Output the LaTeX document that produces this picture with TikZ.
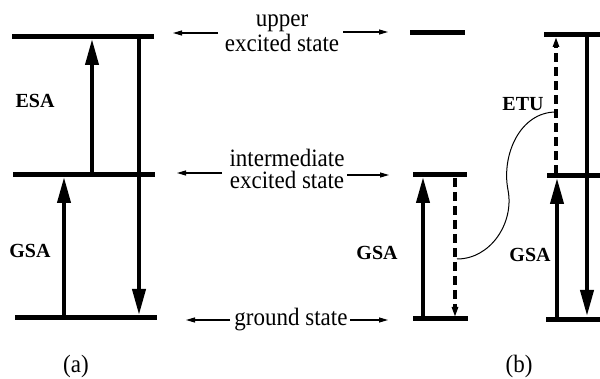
\documentclass[tikz,border=0pt]{standalone}
\usepackage{fontspec}
\setmainfont{Liberation Serif}
\newfontfamily\tallfont{Liberation Serif}[FakeStretch=0.92]
\usetikzlibrary{arrows.meta}
\begin{document}
\begin{tikzpicture}[x=1pt,y=-1pt,
  level/.style={line width=5pt},
  bigarrow/.style={line width=4pt,-{Triangle[length=26pt,width=13pt]}},
  dasharrow/.style={line width=4.5pt,dash pattern=on 9pt off 5pt,-{Triangle[length=10pt,width=6pt]}},
  thinarrow/.style={line width=1.1pt,-{Triangle[length=9pt,width=5pt]}},
  lab/.style={font=\fontsize{20}{21}\selectfont\bfseries,inner sep=0pt},
  txt/.style={font=\tallfont\fontsize{25}{25}\selectfont,align=center,inner sep=0pt},
]
\useasboundingbox (0,0) rectangle (600,379);

% ---- panel (a) levels
\coordinate (aTL) at (12,37);  \coordinate (aTR) at (154,37);
\coordinate (aML) at (13,175); \coordinate (aMR) at (155,175);
\coordinate (aBL) at (15,318); \coordinate (aBR) at (157,318);
\draw[level] (aTL) -- (aTR);
\draw[level] (aML) -- (aMR);
\draw[level] (aBL) -- (aBR);

% ---- panel (a) arrows
\coordinate (g1s) at (64,318); \coordinate (g1e) at (64,177);
\coordinate (e1s) at (92,175); \coordinate (e1e) at (92,39);
\coordinate (d1s) at (139,37); \coordinate (d1e) at (139,315);
\draw[bigarrow] (g1s) -- (g1e);
\draw[bigarrow] (e1s) -- (e1e);
\draw[bigarrow] (d1s) -- (d1e);
\node[lab] (esa) at (35,101) {ESA};
\node[lab] (gsa1) at (30,251) {GSA};

% ---- centre labels (base = baseline of the last line)
\node[txt,anchor=base] (upper) at (282,52) {upper\\excited state};
\node[txt,font=\tallfont\fontsize{25}{22}\selectfont,anchor=base] (inter) at (287,189) {intermediate\\excited state};
\node[txt,anchor=base] (ground) at (291,326) {ground state};

\coordinate (u1s) at (218,33); \coordinate (u1e) at (173,33);
\coordinate (u2s) at (343,32); \coordinate (u2e) at (388,32);
\coordinate (i1s) at (222,173); \coordinate (i1e) at (177,173);
\coordinate (i2s) at (347,175); \coordinate (i2e) at (389,175);
\coordinate (r1s) at (230,320); \coordinate (r1e) at (186,320);
\coordinate (r2s) at (350,320); \coordinate (r2e) at (388,320);
\draw[thinarrow] (u1s) -- (u1e);
\draw[thinarrow] (u2s) -- (u2e);
\draw[thinarrow] (i1s) -- (i1e);
\draw[thinarrow] (i2s) -- (i2e);
\draw[thinarrow] (r1s) -- (r1e);
\draw[thinarrow] (r2s) -- (r2e);

% ---- panel (b) left ion
\coordinate (bTL) at (410,33);  \coordinate (bTR) at (465,33);
\coordinate (bML) at (413,175); \coordinate (bMR) at (467,175);
\coordinate (bBL) at (413,319); \coordinate (bBR) at (468,319);
\draw[level] (bTL) -- (bTR);
\draw[level] (bML) -- (bMR);
\draw[level] (bBL) -- (bBR);
\coordinate (g2s) at (423,319); \coordinate (g2e) at (423,177);
\coordinate (t1s) at (455,178); \coordinate (t1e) at (455,317);
\draw[bigarrow] (g2s) -- (g2e);
\draw[dasharrow] (t1s) -- (t1e);
\node[lab] (gsa2) at (377,253) {GSA};

% ---- panel (b) right ion
\coordinate (cTL) at (544,35);  \coordinate (cTR) at (600,35);
\coordinate (cML) at (547,176); \coordinate (cMR) at (600,176);
\coordinate (cBL) at (546,320); \coordinate (cBR) at (600,320);
\draw[level] (cTL) -- (cTR);
\draw[level] (cML) -- (cMR);
\draw[level] (cBL) -- (cBR);
\coordinate (g3s) at (557,320); \coordinate (g3e) at (557,178);
\coordinate (t2s) at (556,174); \coordinate (t2e) at (556,37);
\coordinate (d2s) at (587,35);  \coordinate (d2e) at (587,316);
\draw[bigarrow] (g3s) -- (g3e);
\draw[dasharrow] (t2s) -- (t2e);
\draw[bigarrow] (d2s) -- (d2e);
\node[lab] (gsa3) at (530,255) {GSA};
\node[lab] (etu) at (523,104) {ETU};

% ---- energy transfer curve
\coordinate (cs) at (457,259);
\coordinate (cm) at (508,190);
\coordinate (ce) at (556,112);
\draw[line width=1pt] (cs) to[out=0,in=-79] (cm) to[out=101,in=180] (ce);

% ---- panel labels
\node[txt,anchor=base] (pa) at (76,373) {(a)};
\node[txt,anchor=base] (pb) at (519,373) {(b)};
\end{tikzpicture}
\end{document}
